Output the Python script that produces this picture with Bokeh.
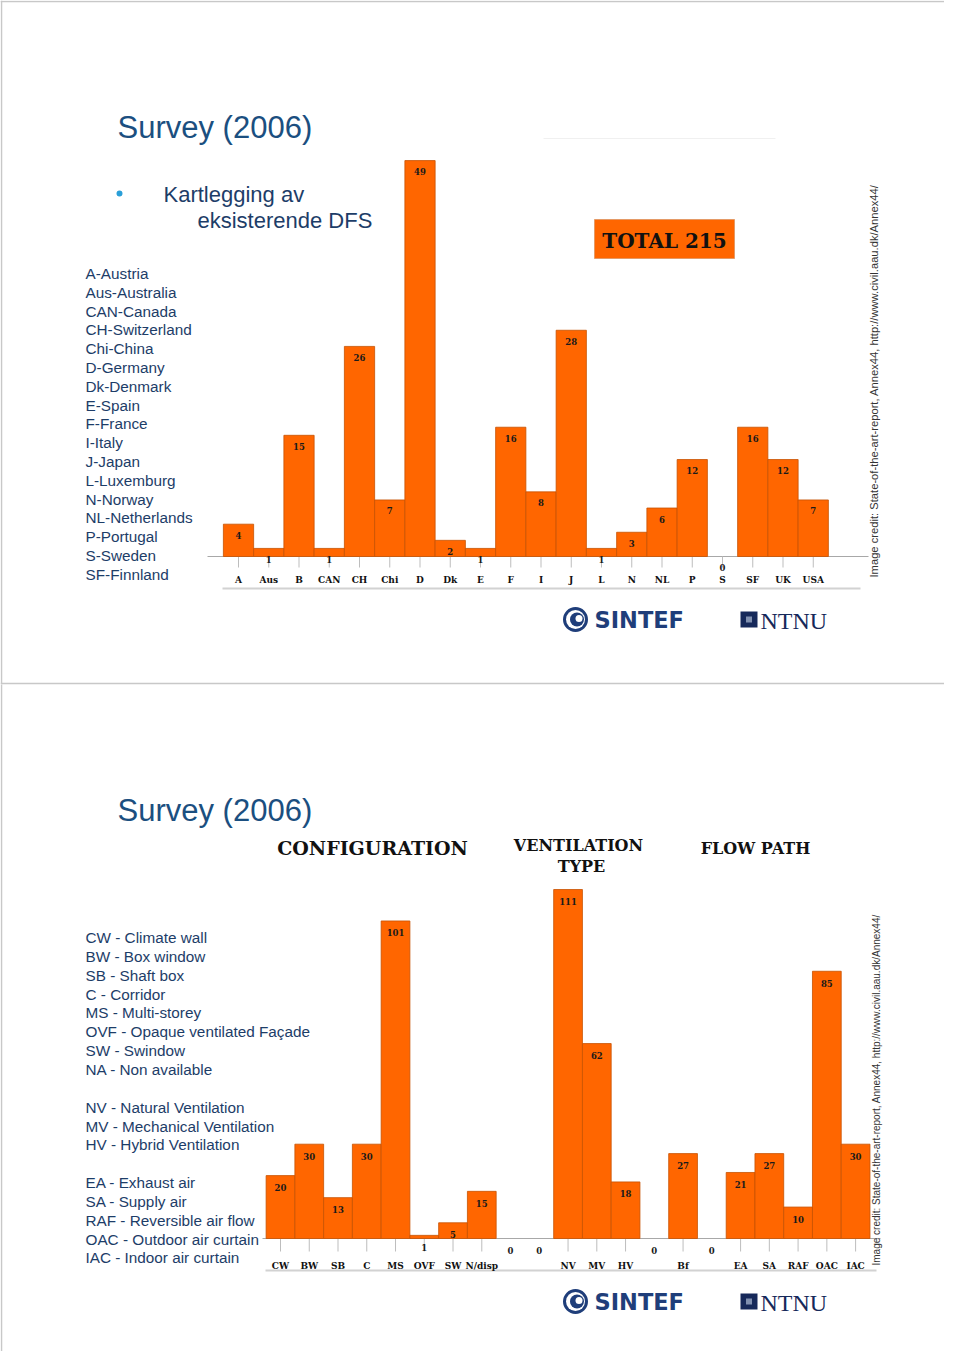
import numpy as np
from bokeh.plotting import figure
from bokeh.models import Range1d
from bokeh.core.properties import value
from bokeh.embed import file_html
from bokeh.resources import INLINE

# ---------------- data ----------------
title_text = "Survey (2006)"
s1_heading = ["Kartlegging av", "eksisterende DFS"]
s1_legend = ["A-Austria", "Aus-Australia", "CAN-Canada", "CH-Switzerland", "Chi-China",
             "D-Germany", "Dk-Denmark", "E-Spain", "F-France", "I-Italy", "J-Japan",
             "L-Luxemburg", "N-Norway", "NL-Netherlands", "P-Portugal", "S-Sweden",
             "SF-Finnland"]
country_codes = ["A", "Aus", "B", "CAN", "CH", "Chi", "D", "Dk", "E", "F", "I", "J",
                 "L", "N", "NL", "P", "S", "SF", "UK", "USA"]
country_counts = [4, 1, 15, 1, 26, 7, 49, 2, 1, 16, 8, 28, 1, 3, 6, 12, 0, 16, 12, 7]
total_label = "TOTAL 215"

s2_legend = ["CW - Climate wall", "BW - Box window", "SB - Shaft box", "C - Corridor",
             "MS - Multi-storey", "OVF - Opaque ventilated Façade", "SW - Swindow",
             "NA - Non available", "",
             "NV - Natural Ventilation", "MV - Mechanical Ventilation",
             "HV - Hybrid Ventilation", "",
             "EA - Exhaust air", "SA - Supply air", "RAF - Reversible air flow",
             "OAC - Outdoor air curtain", "IAC - Indoor air curtain"]
group_headers = ["CONFIGURATION", "VENTILATION", "TYPE", "FLOW PATH"]
type_codes = ["CW", "BW", "SB", "C", "MS", "OVF", "SW", "N/disp", "", "",
              "NV", "MV", "HV", "", "Bf", "", "EA", "SA", "RAF", "OAC", "IAC"]
type_counts = [20, 30, 13, 30, 101, 1, 5, 15, 0, 0, 111, 62, 18, 0, 27, 0, 21, 27, 10, 85, 30]

credit = "Image credit: State-of-the-art-report, Annex44, http://www.civil.aau.dk/Annex44/"

# ---------------- styles ----------------
ORANGE = "#FF6600"
EDGE = "#C65200"
BLUE_T = "#1B4F80"
BLUE_L = "#1D3D68"
SANS = value("Liberation Sans")
SERIF_B = value("DejaVu Serif")

W, H = 944, 1351
OX, OY = 0, 0

p = figure(width=W, height=H, x_range=Range1d(OX, OX + W), y_range=Range1d(OY + H, OY),
           output_backend="svg", toolbar_location=None,
           x_axis_location=None, y_axis_location=None, min_border=0)
p.outline_line_color = None
p.background_fill_color = "white"
p.border_fill_color = "white"
for g in p.grid:
    g.grid_line_color = None

xr, yr = {}, {}


def add_ranges(name, x0, dx, base, dy):
    xr[name] = Range1d((OX - x0) / dx, (OX + W - x0) / dx)
    yr[name] = Range1d((base - (OY + H)) / dy, (base - OY) / dy)


# chart layouts (slot centre of first bar, slot width, baseline, px per unit)
C1 = dict(x0=238.0, dx=30.25, base=556.0, dy=8.08)
C2 = dict(x0=280.0, dx=28.755, base=1238.0, dy=3.144)
add_ranges("c1", **C1)
add_ranges("c2", **C2)
p.extra_x_ranges = xr
p.extra_y_ranges = yr


def draw_chart(name, cats, vals, lay, val_off, cat_off, tick_len, cat_size):
    idx = np.arange(len(cats))
    vals = np.array(vals, dtype=float)
    dy = lay["dy"]
    kw = dict(x_range_name=name, y_range_name=name)
    lab = np.array([c != "" for c in cats])
    # ticks
    p.segment(x0=idx[lab], y0=np.zeros(lab.sum()), x1=idx[lab],
              y1=np.full(lab.sum(), -tick_len / dy), line_color="#BDBDBD", line_width=1, **kw)
    pos = vals > 0
    p.vbar(x=idx[pos], top=vals[pos], bottom=0, width=1.0, fill_color=ORANGE,
           line_color=EDGE, line_width=0.8, **kw)
    p.text(x=idx, y=vals - val_off / dy, text=[str(int(v)) for v in vals],
           text_font=SERIF_B, text_font_style="bold", text_font_size="8.5px",
           text_color="#1a1a1a", text_align="center", text_baseline="middle", **kw)
    p.text(x=idx[lab], y=np.full(lab.sum(), -cat_off / dy), text=[c for c in cats if c],
           text_font=SERIF_B, text_font_style="bold", text_font_size=cat_size,
           text_color="#111111", text_align="center", text_baseline="middle", **kw)


# ---------- slide separators / lines ----------
p.segment(x0=[OX], y0=[683], x1=[OX + W], y1=[683], line_color="#C8C8C8", line_width=1.5)
p.segment(x0=[OX], y0=[1], x1=[OX + W], y1=[1], line_color="#C8C8C8", line_width=1.5)
p.segment(x0=[1, 1], y0=[0, 684], x1=[1, 1], y1=[683, 1367], line_color="#C8C8C8", line_width=1.5)
p.segment(x0=[543], y0=[138], x1=[775], y1=[138], line_color="#F0F0F0", line_width=1)

# baselines and lower rules
p.segment(x0=[207, 262], y0=[556, 1238], x1=[868, 880], y1=[556, 1238],
          line_color="#A8A8A8", line_width=1)
p.segment(x0=[222, 265], y0=[588, 1270], x1=[860, 876], y1=[588, 1270],
          line_color="#D2D2D2", line_width=2)

draw_chart("c1", country_codes, country_counts, C1, 11, 23, 11, "9px")
draw_chart("c2", type_codes, type_counts, C2, 12, 27, 13, "9px")

# ---------- slide 1 texts ----------
p.text(x=[117, 117], y=[127, 810], text=[title_text, title_text], text_font=SANS,
       text_font_size="31px", text_color=BLUE_T, text_baseline="alphabetic")
p.scatter(x=[119], y=[193], size=6, marker="circle", fill_color="#2A9FD8", line_color=None)
p.text(x=[163, 197], y=[194, 220], text=s1_heading, text_font=SANS, text_font_size="22px",
       text_color=BLUE_L, text_baseline="middle")
p.text(x=[85] * len(s1_legend), y=273 + 18.8 * np.arange(len(s1_legend)), text=s1_legend,
       text_font=SANS, text_font_size="15.3px", text_color=BLUE_L, text_baseline="middle")

p.quad(left=[594], right=[734], top=[219], bottom=[258], fill_color=ORANGE,
       line_color="#E59A66", line_width=1)
p.text(x=[664], y=[240], text=[total_label], text_font=SERIF_B, text_font_style="bold",
       text_font_size="20px", text_color="#111111", text_align="center", text_baseline="middle")

# ---------- slide 2 texts ----------
p.text(x=[85] * len(s2_legend), y=937 + 18.85 * np.arange(len(s2_legend)), text=s2_legend,
       text_font=SANS, text_font_size="15.3px", text_color=BLUE_L, text_baseline="middle")
p.text(x=[372, 578, 581, 755], y=[847, 845, 866, 848], text=group_headers,
       text_font=SERIF_B, text_font_style="bold",
       text_font_size=["19px", "16px", "16px", "16px"], text_color="#111111",
       text_align="center", text_baseline="middle")

# ---------- credits ----------
p.text(x=[873, 876], y=[577, 1265], text=[credit, credit], angle=np.pi / 2,
       text_font=SANS, text_font_size=["11.2px", "10px"], text_color="#333333",
       text_align="left", text_baseline="middle")


# ---------- logos ----------
def logos(yc):
    p.circle(x=[575], y=[yc], radius=12.5, fill_color="#1F3E7A", line_color=None)
    p.circle(x=[575], y=[yc], radius=9.5, fill_color="white", line_color=None)
    p.circle(x=[576.5], y=[yc], radius=7, fill_color="#1F3E7A", line_color=None)
    p.circle(x=[578.5], y=[yc - 1], radius=3.5, fill_color="white", line_color=None)
    p.text(x=[594], y=[yc], text=["SINTEF"], text_font=value("DejaVu Sans"),
           text_font_style="bold", text_font_size="22.5px", text_color="#1F3E7A",
           text_baseline="middle")
    p.quad(left=[740], right=[757], top=[yc - 8], bottom=[yc + 8], fill_color="#16295A",
           line_color=None)
    p.quad(left=[745.5], right=[751.5], top=[yc - 3], bottom=[yc + 3], fill_color="#8090B0",
           line_color=None)
    p.text(x=[760], y=[yc + 1], text=["NTNU"], text_font=value("Liberation Serif"),
           text_font_size="24px", text_color="#16295A", text_baseline="middle")


logos(619)
logos(1301)

open("out.html", "w").write(file_html(p, INLINE))
